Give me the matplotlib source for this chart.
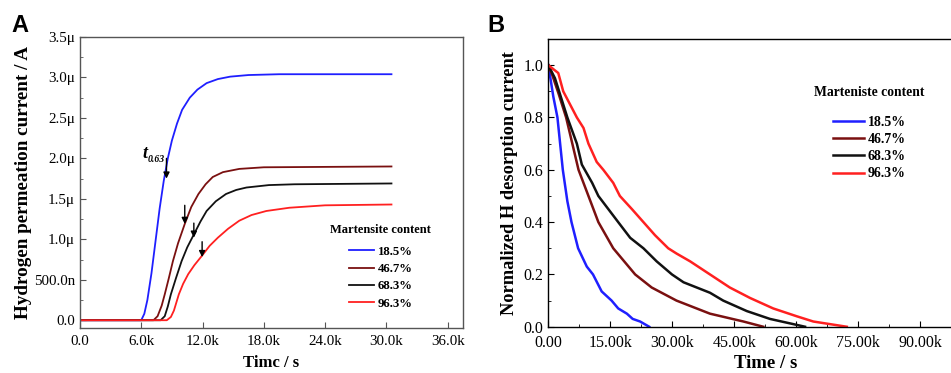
import numpy as np
import matplotlib
matplotlib.use("Agg")
from matplotlib import pyplot as plt
from matplotlib.ticker import FixedLocator, MultipleLocator

plt.rcParams['font.family'] = ['Liberation Serif', 'DejaVu Serif']

# ---- panel A: permeation transients (time in s, current in A) ----
labels = ["18.5%", "46.7%", "68.3%", "96.3%"]
colors = ["#1f1fff", "#7a1010", "#111111", "#ff2020"]

a_t_185 = [0, 6.0e3, 6.3e3, 6.6e3, 7.0e3, 7.4e3, 7.8e3, 8.2e3, 8.6e3, 9.0e3, 9.5e3, 10.0e3,
           10.75e3, 11.5e3, 12.4e3, 13.5e3, 14.7e3, 16.5e3, 19.5e3, 30.5e3]
a_i_185 = [0, 0, 0.08, 0.25, 0.58, 0.98, 1.38, 1.72, 2.0, 2.22, 2.43, 2.6,
           2.75, 2.85, 2.93, 2.98, 3.01, 3.03, 3.04, 3.04]

a_t_467 = [0, 7.2e3, 7.6e3, 8.0e3, 8.3e3, 8.7e3, 9.1e3, 9.6e3, 10.26e3, 10.9e3, 11.6e3,
           12.3e3, 13.0e3, 14.0e3, 15.6e3, 18.0e3, 30.5e3]
a_i_467 = [0, 0, 0.05, 0.18, 0.32, 0.52, 0.73, 0.95, 1.19, 1.4, 1.56,
           1.68, 1.77, 1.83, 1.87, 1.89, 1.9]

a_t_683 = [0, 7.9e3, 8.3e3, 8.6e3, 8.9e3, 9.4e3, 9.95e3, 10.5e3, 11.15e3, 11.8e3, 12.4e3,
           13.3e3, 14.3e3, 15.3e3, 16.3e3, 18.5e3, 21.0e3, 30.5e3]
a_i_683 = [0, 0, 0.05, 0.17, 0.32, 0.52, 0.73, 0.9, 1.06, 1.22, 1.35,
           1.47, 1.56, 1.61, 1.64, 1.67, 1.68, 1.69]

a_t_963 = [0, 8.5e3, 8.9e3, 9.2e3, 9.68e3, 10.1e3, 10.6e3, 11.2e3, 11.9e3, 12.7e3, 13.5e3,
           14.5e3, 15.6e3, 16.8e3, 18.25e3, 20.5e3, 24.0e3, 30.5e3]
a_i_963 = [0, 0, 0.04, 0.12, 0.32, 0.45, 0.57, 0.68, 0.79, 0.92, 1.02,
           1.13, 1.23, 1.3, 1.35, 1.39, 1.42, 1.43]

# t0.63 arrows: time, tip current, tail current (uA)
t063 = [8.47e3, 10.26e3, 11.15e3, 11.96e3]
t063_tip = [1.75, 1.19, 1.02, 0.78]
t063_tail = [2.0, 1.42, 1.2, 0.97]

a_yticks = [0, 0.5e-6, 1.0e-6, 1.5e-6, 2.0e-6, 2.5e-6, 3.0e-6, 3.5e-6]
a_yticklabels = ["0.0", "500.0n", "1.0\u03bc", "1.5\u03bc", "2.0\u03bc", "2.5\u03bc", "3.0\u03bc", "3.5\u03bc"]
a_xticks = [0, 6e3, 12e3, 18e3, 24e3, 30e3, 36e3]
a_xticklabels = ["0.0", "6.0k", "12.0k", "18.0k", "24.0k", "30.0k", "36.0k"]

# ---- panel B: normalized desorption current ----
b_t_185 = [0, 0.5e3, 1.2e3, 2.2e3, 3.5e3, 4.6e3, 5.6e3, 7.2e3, 9.3e3, 10.8e3, 12.9e3,
           15.3e3, 16.9e3, 19.0e3, 20.4e3, 22.2e3, 24.4e3]
b_i_185 = [1.0, 0.95, 0.88, 0.8, 0.6, 0.48, 0.4, 0.3, 0.23, 0.2, 0.135,
           0.1, 0.07, 0.05, 0.03, 0.02, 0.0]

b_t_467 = [0, 1.0e3, 2.5e3, 4.3e3, 7.3e3, 12.1e3, 15.7e3, 21.0e3, 25.0e3, 31.0e3,
           39.1e3, 47.2e3, 52.0e3]
b_i_467 = [1.0, 0.96, 0.89, 0.8, 0.6, 0.4, 0.3, 0.2, 0.15, 0.1,
           0.05, 0.02, 0.0]

b_t_683 = [0, 1.6e3, 4.6e3, 6.9e3, 8.1e3, 10.6e3, 12.1e3, 14.5e3, 16.9e3, 19.8e3, 23.0e3,
           26.2e3, 29.9e3, 32.7e3, 39.1e3, 42.3e3, 48.0e3, 53.6e3, 62.1e3]
b_i_683 = [1.0, 0.95, 0.8, 0.7, 0.62, 0.55, 0.5, 0.45, 0.4, 0.34, 0.3,
           0.25, 0.2, 0.17, 0.13, 0.1, 0.06, 0.03, 0.0]

b_t_963 = [0, 2.4e3, 3.6e3, 6.9e3, 8.5e3, 9.7e3, 11.7e3, 13.3e3, 15.7e3, 17.3e3, 20.2e3,
           23.0e3, 25.8e3, 29.0e3, 31.0e3, 34.3e3, 39.1e3, 43.9e3, 48.8e3, 54.4e3,
           60.1e3, 64.1e3, 72.2e3]
b_i_963 = [1.0, 0.97, 0.9, 0.8, 0.76, 0.7, 0.63, 0.6, 0.55, 0.5, 0.45,
           0.4, 0.35, 0.3, 0.28, 0.25, 0.2, 0.15, 0.11, 0.07,
           0.04, 0.02, 0.0]

b_xticks = [0, 15e3, 30e3, 45e3, 60e3, 75e3, 90e3]
b_xticklabels = ["0.00", "15.00k", "30.00k", "45.00k", "60.00k", "75.00k", "90.00k"]
b_yticks = [0, 0.2, 0.4, 0.6, 0.8, 1.0]


def style_axes(ax, edge, size):
    for s in ax.spines.values():
        s.set_color(edge)
        s.set_linewidth(1.0)
    ax.tick_params(which='both', direction='in', top=False, right=False, labelsize=size,
                   color=edge)
    ax.tick_params(which='major', length=4)
    ax.tick_params(which='minor', length=2.5)


fig = plt.figure(figsize=(9.51, 3.73), dpi=100)

# panel A
ax1 = fig.add_axes([0.0841, 0.1198, 0.4027, 0.781])
a_t = [a_t_185, a_t_467, a_t_683, a_t_963]
a_i = [a_i_185, a_i_467, a_i_683, a_i_963]
for t, i, c, lab in zip(a_t, a_i, colors, labels):
    ax1.plot(t, np.array(i) * 1e-6, color=c, lw=1.3, label=lab)
for x, tip, tail in zip(t063, t063_tip, t063_tail):
    ax1.annotate("", xy=(x, tip * 1e-6), xytext=(x, tail * 1e-6),
                 arrowprops=dict(arrowstyle='-|>', color='black', lw=1.0,
                                 mutation_scale=9, shrinkA=0, shrinkB=0))
ax1.text(6.4e3, 2.01e-6, "t", fontsize=13, fontweight='bold', fontstyle='italic',
         ha='center', va='baseline')
ax1.text(6.65e3, 1.96e-6, "0.63", fontsize=7, fontweight='bold', fontstyle='italic',
         ha='left', va='baseline')
ax1.set_xlim(0, 37.5e3)
ax1.set_ylim(-0.1e-6, 3.5e-6)
ax1.set_xticks(a_xticks)
ax1.set_xticklabels(a_xticklabels)
ax1.set_yticks(a_yticks)
ax1.set_yticklabels(a_yticklabels)
ax1.yaxis.set_minor_locator(FixedLocator(np.arange(0.25e-6, 3.5e-6, 0.5e-6)))
style_axes(ax1, '#555555', 10.8)
ax1.tick_params(axis='x', pad=4.5)
ax1.set_xlabel("Timc / s", fontsize=12, fontweight='bold', labelpad=5)
ax1.set_ylabel("Hydrogen permeation current / A", fontsize=13.8, fontweight='bold', labelpad=1)
leg1 = ax1.legend(loc='upper center', bbox_to_anchor=(0.785, 0.38), frameon=False,
                  title="Martensite content", handlelength=1.95, handletextpad=0.3,
                  labelspacing=0.42, borderpad=0,
                  prop={'weight': 'bold', 'size': 9.2},
                  title_fontproperties={'weight': 'bold', 'size': 9})
leg1._legend_box.sep = 7
fig.text(0.012, 0.915, "A", fontsize=17, fontweight='bold', family='Liberation Sans')

# panel B
ax2 = fig.add_axes([0.5766, 0.124, 0.4564, 0.7714])
b_t = [b_t_185, b_t_467, b_t_683, b_t_963]
b_i = [b_i_185, b_i_467, b_i_683, b_i_963]
for t, i, c, lab in zip(b_t, b_i, colors, labels):
    ax2.plot(t, i, color=c, lw=1.8, label=lab)
ax2.set_xlim(0, 105e3)
ax2.set_ylim(0, 1.1)
ax2.set_xticks(b_xticks)
ax2.set_xticklabels(b_xticklabels)
ax2.set_yticks(b_yticks)
ax2.set_yticklabels(["0.0", "0.2", "0.4", "0.6", "0.8", "1.0"])
ax2.xaxis.set_minor_locator(MultipleLocator(7.5e3))
ax2.yaxis.set_minor_locator(MultipleLocator(0.1))
style_axes(ax2, 'black', 11.5)
ax2.tick_params(axis='x', pad=6)
ax2.spines['right'].set_visible(False)
ax2.set_xlabel("Time / s", fontsize=13.5, fontweight='bold', labelpad=3)
ax2.set_ylabel("Normalized H desorption current", fontsize=13.2, fontweight='bold', labelpad=4)
leg2 = ax2.legend(loc='upper center', bbox_to_anchor=(0.74, 0.86), frameon=False,
                  title="Marteniste content", handlelength=2.2, handletextpad=0.3,
                  labelspacing=0.3, borderpad=0,
                  prop={'weight': 'bold', 'size': 10},
                  title_fontproperties={'weight': 'bold', 'size': 9.8})
leg2._legend_box.sep = 12
fig.text(0.512, 0.915, "B", fontsize=17, fontweight='bold', family='Liberation Sans')

fig.savefig("out.png", dpi=100)
